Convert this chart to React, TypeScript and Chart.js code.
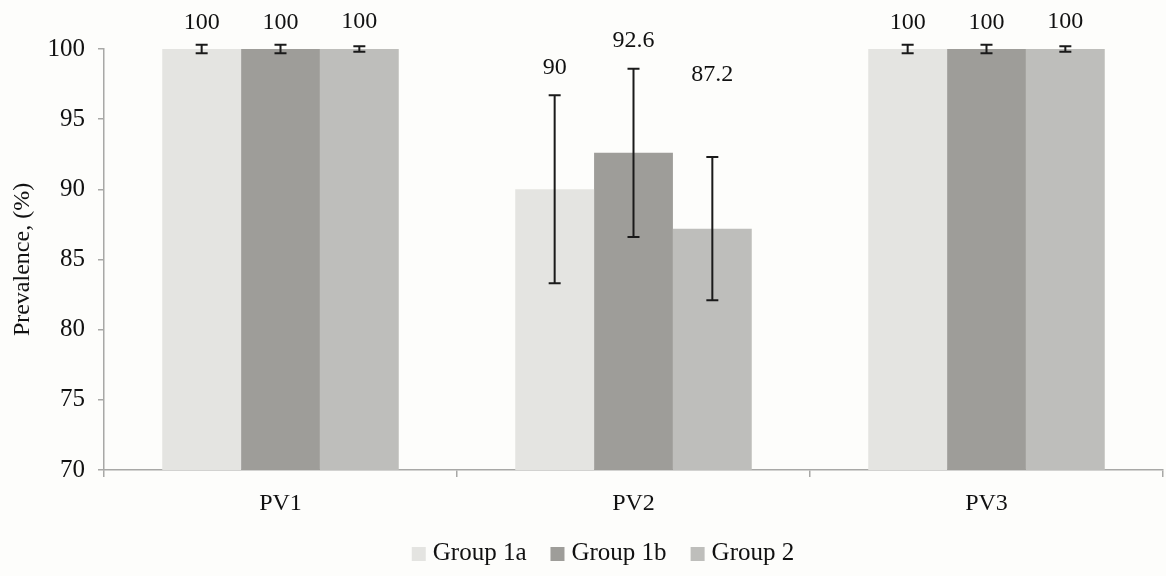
import React, { useEffect, useRef } from "react";
import { Chart, registerables } from "chart.js";

Chart.register(...registerables);

const categories = ["PV1", "PV2", "PV3"];
const seriesNames = ["Group 1a", "Group 1b", "Group 2"];
const group1a = [100, 90, 100];
const group1b = [100, 92.6, 100];
const group2 = [100, 87.2, 100];
const err1a = [0.3, 6.7, 0.3];
const err1b = [0.3, 6.0, 0.3];
const err2 = [0.2, 5.1, 0.2];
const yTicks = [70, 75, 80, 85, 90, 95, 100];

const FONT = "'Liberation Serif', 'Times New Roman', serif";
const W = 1166;
const H = 576;

const errorBarPlugin = {
  id: "errorBarsAndLabels",
  afterDatasetsDraw(chart: any, _args: any, opts: any) {
    const ctx = chart.ctx;
    const y = chart.scales.y;
    chart.data.datasets.forEach((ds: any, di: number) => {
      const meta = chart.getDatasetMeta(di);
      meta.data.forEach((bar: any, i: number) => {
        const v = ds.data[i];
        const e = ds.errors[i];
        const x = bar.x;
        const yt = y.getPixelForValue(v + e);
        const yb = y.getPixelForValue(v - e);
        ctx.save();
        ctx.strokeStyle = opts.color;
        ctx.lineWidth = opts.lineWidth;
        ctx.beginPath();
        ctx.moveTo(x, yt);
        ctx.lineTo(x, yb);
        ctx.moveTo(x - opts.cap / 2, yt);
        ctx.lineTo(x + opts.cap / 2, yt);
        ctx.moveTo(x - opts.cap / 2, yb);
        ctx.lineTo(x + opts.cap / 2, yb);
        ctx.stroke();
        ctx.fillStyle = opts.labelColor;
        ctx.font = opts.labelFont;
        ctx.textAlign = "center";
        ctx.textBaseline = "middle";
        ctx.fillText(String(v), x, yt - opts.offsets[di][i]);
        ctx.restore();
      });
    });
  },
};

const legendPlugin = {
  id: "customLegend",
  afterDraw(chart: any, _args: any, opts: any) {
    const ctx = chart.ctx;
    ctx.save();
    ctx.font = opts.font;
    const items = chart.data.datasets.map((ds: any) => ({
      text: ds.label,
      color: ds.backgroundColor,
      w: ctx.measureText(ds.label).width,
    }));
    const total =
      items.reduce((s: number, it: any) => s + opts.box + opts.textGap + it.w, 0) +
      opts.itemGap * (items.length - 1);
    let x = opts.centerX - total / 2;
    const y = opts.y;
    ctx.textBaseline = "middle";
    ctx.textAlign = "left";
    items.forEach((it: any) => {
      ctx.fillStyle = it.color;
      ctx.fillRect(x, y - opts.box / 2 + 1, opts.box, opts.box);
      ctx.fillStyle = opts.color;
      ctx.fillText(it.text, x + opts.box + opts.textGap, y);
      x += opts.box + opts.textGap + it.w + opts.itemGap;
    });
    ctx.restore();
  },
};

const bgPlugin = {
  id: "bg",
  beforeDraw(chart: any) {
    const ctx = chart.ctx;
    ctx.save();
    ctx.fillStyle = "#fdfdfb";
    ctx.fillRect(0, 0, chart.width, chart.height);
    ctx.restore();
  },
};

export default function App() {
  const ref = useRef<HTMLCanvasElement | null>(null);
  useEffect(() => {
    document.body.style.margin = "0";
    document.body.style.background = "#fdfdfb";
    if (!ref.current) return;
    const axisColor = "#a8a8a6";
    const chart = new Chart(ref.current, {
      type: "bar",
      data: {
        labels: categories,
        datasets: [
          { label: seriesNames[0], data: group1a, errors: err1a, backgroundColor: "#e4e4e1" } as any,
          { label: seriesNames[1], data: group1b, errors: err1b, backgroundColor: "#9e9d99" } as any,
          { label: seriesNames[2], data: group2, errors: err2, backgroundColor: "#bebebb" } as any,
        ],
      },
      options: {
        responsive: false,
        animation: false,
        layout: { padding: { top: 49, right: 3, left: 0, bottom: 0 } },
        datasets: { bar: { categoryPercentage: 0.67, barPercentage: 1.0, borderWidth: 0 } },
        scales: {
          x: {
            grid: {
              offset: true,
              drawOnChartArea: false,
              drawTicks: true,
              tickLength: 7,
              color: axisColor,
              lineWidth: 1.5,
            },
            border: { color: axisColor, width: 1.5 },
            ticks: { color: "#111", font: { family: FONT, size: 24 }, padding: 12 },
            afterFit: (s: any) => {
              s.height = 106;
            },
          },
          y: {
            min: 70,
            max: 100,
            afterBuildTicks: (s: any) => {
              s.ticks = yTicks.map((v) => ({ value: v }));
            },
            grid: {
              drawOnChartArea: false,
              drawTicks: true,
              tickLength: 6,
              color: axisColor,
              lineWidth: 1.5,
            },
            border: { color: axisColor, width: 1.5 },
            ticks: { color: "#111", font: { family: FONT, size: 25 }, padding: 13 },
            title: {
              display: true,
              text: "Prevalence, (%)",
              color: "#111",
              font: { family: FONT, size: 24 },
              padding: { top: 8, bottom: 0 },
            },
            afterFit: (s: any) => {
              s.width = 104;
            },
          },
        },
        plugins: {
          legend: { display: false },
          tooltip: { enabled: false },
          errorBarsAndLabels: {
            color: "#1a1a1a",
            lineWidth: 2,
            cap: 12,
            labelColor: "#111",
            labelFont: `24px ${FONT}`,
            offsets: [
              [22, 28, 22],
              [22, 28, 22],
              [24, 82, 24],
            ],
          },
          customLegend: {
            font: `25px ${FONT}`,
            color: "#111",
            box: 14,
            textGap: 7,
            itemGap: 24,
            centerX: 603,
            y: 553,
          },
        } as any,
      },
      plugins: [bgPlugin, errorBarPlugin, legendPlugin],
    });
    return () => chart.destroy();
  }, []);
  return (
    <div style={{ width: W, height: H, position: "relative" }}>
      <canvas ref={ref} width={W} height={H} style={{ display: "block" }} />
    </div>
  );
}
